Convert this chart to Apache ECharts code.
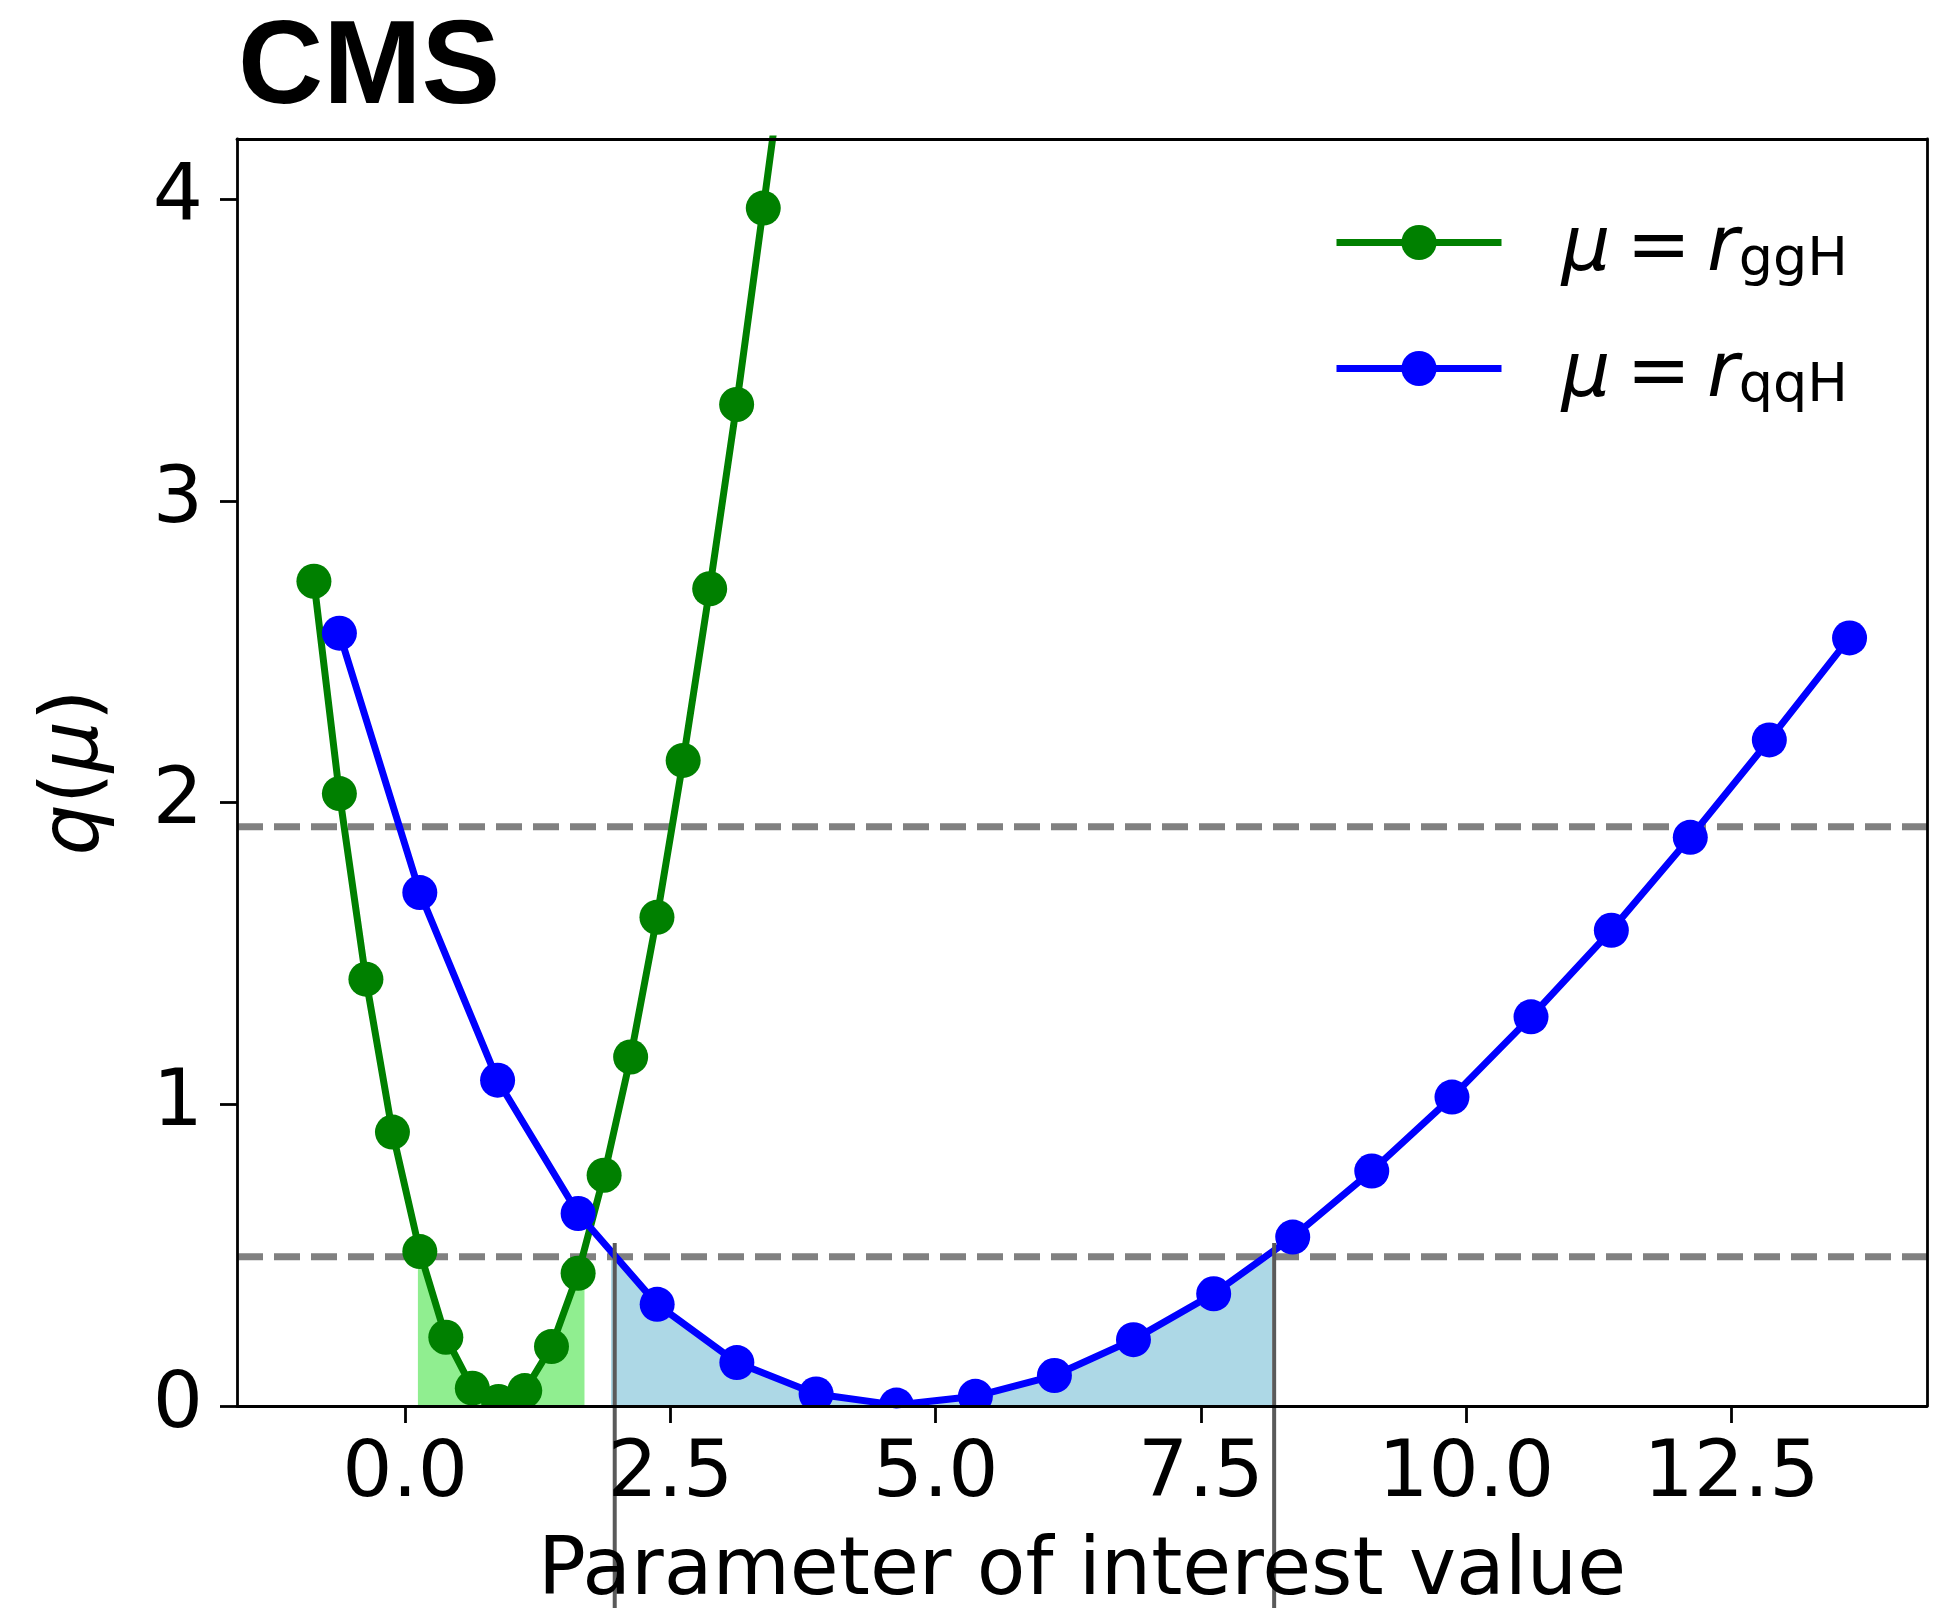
<!DOCTYPE html>
<html>
<head>
<meta charset="UTF-8">
<title>q(mu) scan</title>
<script src="https://cdn.jsdelivr.net/npm/echarts@6/dist/echarts.min.js"></script>
<style>
html, body, #main { width: 100%; height: 100%; margin: 0; padding: 0; background: #fff; }
</style>
</head>
<body>
<div id="main"></div>
<script>
// scan points
var ggH_mu = [-0.86, -0.62, -0.37, -0.12, 0.138, 0.383, 0.633, 0.88, 1.127, 1.379, 1.63, 1.875, 2.125, 2.373, 2.62, 2.87, 3.124, 3.375, 3.62];
var ggH_q  = [2.734, 2.03, 1.415, 0.908, 0.512, 0.228, 0.059, 0.015, 0.051, 0.197, 0.44, 0.765, 1.157, 1.62, 2.14, 2.709, 3.32, 3.971, 4.61];
var qqH_mu = [-0.62, 0.138, 0.871, 1.63, 2.375, 3.126, 3.873, 4.63, 5.374, 6.119, 6.864, 7.62, 8.365, 9.11, 9.866, 10.611, 11.368, 12.112, 12.857, 13.613];
var qqH_q  = [2.562, 1.702, 1.08, 0.638, 0.337, 0.144, 0.04, 0.003, 0.032, 0.101, 0.22, 0.372, 0.56, 0.779, 1.024, 1.29, 1.577, 1.885, 2.208, 2.546];

var thresholds = [1.92, 0.495];      // dashed lines
var ggHBand = [0.12, 1.69];          // green shaded interval
var qqHBand = [1.94, 8.17];          // blue shaded interval
var qqHLines = [1.975, 8.19];        // grey vertical markers
var vLineTop = 0.54;

var xTicks = [0, 2.5, 5, 7.5, 10, 12.5];
var yTicks = [0, 1, 2, 3, 4];

var FONT = 'DejaVu Sans';

function pairs(xs, ys) {
    var out = [];
    for (var i = 0; i < xs.length; i++) out.push([xs[i], ys[i]]);
    return out;
}

// area under the curve inside [band[0], band[1]], capped at the threshold
function bandPoints(xs, ys, band, cap) {
    function interp(x) {
        for (var i = 0; i < xs.length - 1; i++) {
            if (x >= xs[i] && x <= xs[i + 1]) {
                var t = (x - xs[i]) / (xs[i + 1] - xs[i]);
                return ys[i] + t * (ys[i + 1] - ys[i]);
            }
        }
        return ys[ys.length - 1];
    }
    var pts = [[band[0], Math.min(interp(band[0]), cap)]];
    for (var i = 0; i < xs.length; i++) {
        if (xs[i] > band[0] && xs[i] < band[1]) pts.push([xs[i], Math.min(ys[i], cap)]);
    }
    pts.push([band[1], Math.min(interp(band[1]), cap)]);
    return pts;
}

function dots(color) {
    return function (params, api) {
        var p = api.coord([api.value(0), api.value(1)]);
        return { type: 'circle', shape: { cx: p[0], cy: p[1], r: 17.5 }, style: { fill: color } };
    };
}

// legend entry: mathtext-like  μ = r_sub
var legendRich = {
    p: { fontFamily: FONT, fontStyle: 'italic', fontSize: 77, lineHeight: 90, padding: [14, 0, 0, 55] },
    m: { fontFamily: FONT, fontStyle: 'italic', fontSize: 77, lineHeight: 90, padding: [14, 0, 0, 0] },
    e: { fontFamily: FONT, fontSize: 77, lineHeight: 90, padding: [14, 16, 0, 16] },
    s: { fontFamily: FONT, fontSize: 54, lineHeight: 41, verticalAlign: 'bottom' }
};
function legendFor(name, top) {
    return {
        orient: 'vertical',
        left: 1333,
        top: top,
        padding: 0,
        itemWidth: 165,
        itemHeight: 44,
        data: [name],
        lineStyle: { width: 7 },
        formatter: function (n) { return '{p|μ}{e|=}{m|r}{s|' + n + '}'; },
        textStyle: { color: '#000', rich: legendRich }
    };
}

var mycharts = echarts.init(document.getElementById('main'));

var axisCommon = {
    axisLine: { show: true, onZero: false, lineStyle: { color: '#000', width: 2.8 } },
    splitLine: { show: false },
    z: 10
};

var option = {
    animation: false,
    backgroundColor: '#fff',
    title: {
        text: 'CMS',
        left: 238,
        top: 11,
        padding: 0,
        textStyle: { fontFamily: 'Liberation Sans', fontWeight: 'bold', fontSize: 118, color: '#000' }
    },
    grid: { left: 237, right: 9, top: 139, bottom: 202, outerBoundsMode: 'none', containLabel: false },
    legend: [legendFor('ggH', 197), legendFor('qqH', 323)],
    xAxis: [
        Object.assign({}, axisCommon, {
            type: 'value', position: 'bottom', min: -1.585, max: 14.343,
            axisTick: { show: true, length: 17, lineStyle: { color: '#000', width: 2.8 }, customValues: xTicks },
            axisLabel: {
                customValues: xTicks, margin: 30, color: '#000', fontFamily: FONT, fontSize: 79,
                formatter: function (v) { return v.toFixed(1); }
            },
            name: 'Parameter of interest value',
            nameLocation: 'middle',
            nameGap: 127,
            nameTextStyle: { color: '#000', fontFamily: FONT, fontSize: 79.5 }
        }),
        Object.assign({}, axisCommon, {
            type: 'value', position: 'top', min: -1.585, max: 14.343,
            axisTick: { show: false }, axisLabel: { show: false }
        })
    ],
    yAxis: [
        Object.assign({}, axisCommon, {
            type: 'value', position: 'left', min: 0, max: 4.2,
            axisTick: { show: true, length: 17, lineStyle: { color: '#000', width: 2.8 }, customValues: yTicks },
            axisLabel: { customValues: yTicks, margin: 34, color: '#000', fontFamily: FONT, fontSize: 79 },
            name: '{i|q}({i|μ})',
            nameLocation: 'middle',
            nameRotate: 90,
            nameGap: 121,
            nameTextStyle: {
                color: '#000', fontFamily: FONT, fontSize: 81,
                rich: { i: { fontFamily: FONT, fontStyle: 'italic', fontSize: 81, color: '#000' } }
            }
        }),
        Object.assign({}, axisCommon, {
            type: 'value', position: 'right', min: 0, max: 4.2,
            axisTick: { show: false }, axisLabel: { show: false }
        })
    ],
    series: [
        {
            name: 'ggH band', type: 'line', silent: true, z: 1,
            data: bandPoints(ggH_mu, ggH_q, ggHBand, thresholds[1]),
            symbol: 'none', lineStyle: { opacity: 0 },
            areaStyle: { color: '#90ee90', opacity: 1 }
        },
        {
            name: 'qqH band', type: 'line', silent: true, z: 1,
            data: bandPoints(qqH_mu, qqH_q, qqHBand, thresholds[1]),
            symbol: 'none', lineStyle: { opacity: 0 },
            areaStyle: { color: '#add8e6', opacity: 1 }
        },
        {
            name: 'thresholds', type: 'custom', silent: true, z: 2, clip: true,
            data: thresholds.map(function (v) { return [0, v]; }),
            encode: { x: 0, y: 1 },
            renderItem: function (params, api) {
                var y = api.coord([0, api.value(1)])[1];
                var cs = params.coordSys;
                return {
                    type: 'line',
                    shape: { x1: cs.x, y1: y, x2: cs.x + cs.width, y2: y },
                    style: { stroke: '#808080', lineWidth: 7, lineDash: [26, 11] }
                };
            }
        },
        {
            name: 'ggH', type: 'line', z: 3, clip: true,
            data: pairs(ggH_mu, ggH_q),
            symbol: 'circle', showSymbol: false,
            lineStyle: { color: '#008000', width: 7 },
            itemStyle: { color: '#008000' }
        },
        {
            name: 'ggH points', type: 'custom', z: 4, clip: true,
            data: pairs(ggH_mu, ggH_q), encode: { x: 0, y: 1 },
            renderItem: dots('#008000')
        },
        {
            name: 'qqH', type: 'line', z: 5, clip: true,
            data: pairs(qqH_mu, qqH_q),
            symbol: 'circle', showSymbol: false,
            lineStyle: { color: '#0000ff', width: 7 },
            itemStyle: { color: '#0000ff' }
        },
        {
            name: 'qqH points', type: 'custom', z: 6, clip: true,
            data: pairs(qqH_mu, qqH_q), encode: { x: 0, y: 1 },
            renderItem: dots('#0000ff')
        },
        {
            name: 'interval edges', type: 'custom', silent: true, z: 7, clip: false,
            data: qqHLines.map(function (x) { return [x, vLineTop]; }),
            encode: { x: 0, y: 1 },
            renderItem: function (params, api) {
                var p = api.coord([api.value(0), api.value(1)]);
                return {
                    type: 'line',
                    shape: { x1: p[0], y1: p[1], x2: p[0], y2: api.getHeight() },
                    style: { stroke: '#5a5a5a', lineWidth: 4 }
                };
            }
        }
    ]
};

mycharts.setOption(option);
</script>
</body>
</html>
